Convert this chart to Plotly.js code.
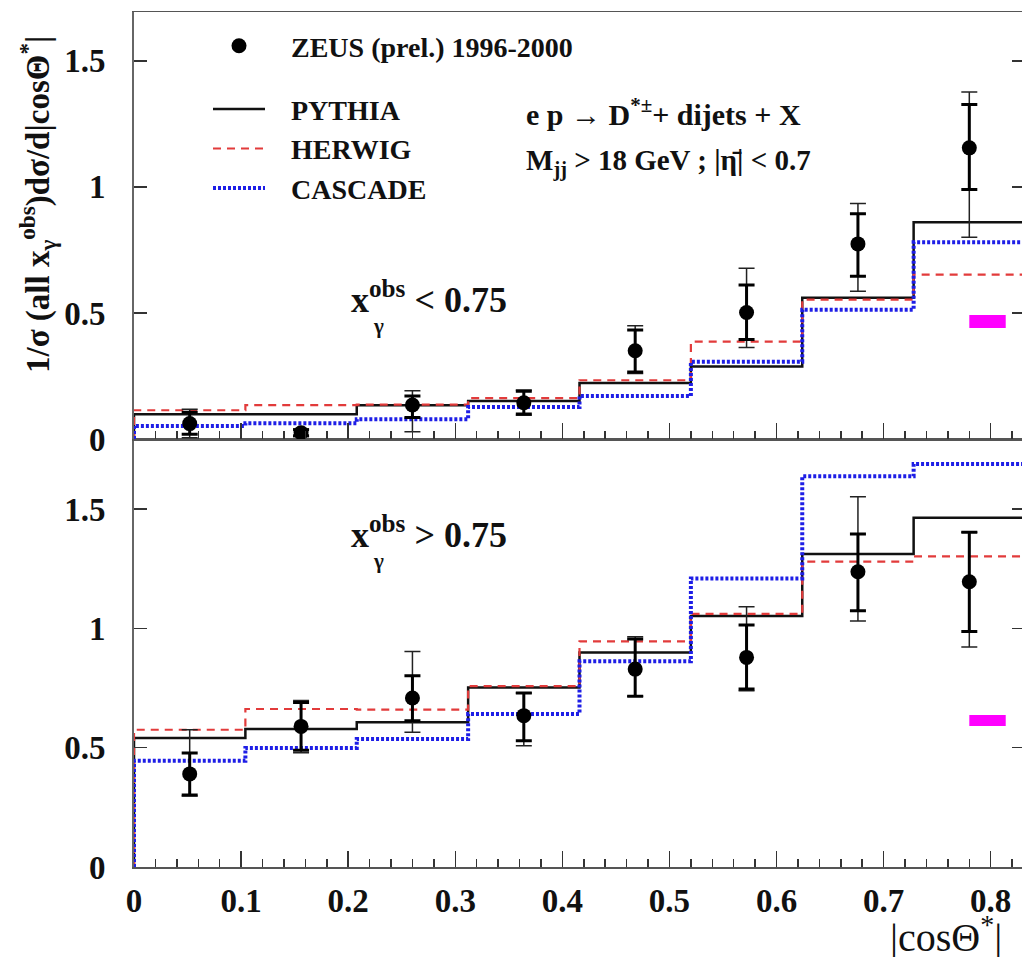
<!DOCTYPE html>
<html>
<head>
<meta charset="utf-8">
<script src="https://cdn.plot.ly/plotly-3.0.1.min.js"></script>
<style>
html,body{margin:0;padding:0;overflow:hidden;background:#fff;}
#chart{width:1025px;height:957px;}
</style>
</head>
<body>
<div id="chart"></div>
<script>
// ---- data ----
const binEdges = [0, 0.104, 0.208, 0.312, 0.416, 0.52, 0.624, 0.728, 0.832];
const binCenters = [0.052, 0.156, 0.26, 0.364, 0.468, 0.572, 0.676, 0.78];

// top panel: x_gamma^obs < 0.75
const lowPythia  = [0.098, 0.098, 0.134, 0.151, 0.222, 0.288, 0.560, 0.860];
const lowHerwig  = [0.114, 0.134, 0.136, 0.162, 0.233, 0.386, 0.553, 0.652];
const lowCascade = [0.052, 0.062, 0.078, 0.127, 0.171, 0.306, 0.513, 0.781];
const lowData    = [0.061, 0.025, 0.135, 0.144, 0.350, 0.502, 0.774, 1.155];
const lowStatUp  = [0.045, 0.012, 0.036, 0.045, 0.082, 0.109, 0.120, 0.172];
const lowStatDn  = [0.042, 0.012, 0.050, 0.045, 0.084, 0.107, 0.128, 0.165];
const lowTotUp   = [0.057, 0.015, 0.056, 0.050, 0.099, 0.175, 0.160, 0.222];
const lowTotDn   = [0.056, 0.015, 0.106, 0.050, 0.090, 0.139, 0.188, 0.355];

// bottom panel: x_gamma^obs > 0.75
const highPythia  = [0.540, 0.578, 0.606, 0.752, 0.899, 1.052, 1.311, 1.463];
const highHerwig  = [0.575, 0.662, 0.659, 0.758, 0.945, 1.060, 1.279, 1.301];
const highCascade = [0.445, 0.499, 0.536, 0.641, 0.862, 1.209, 1.637, 1.688];
const highData    = [0.390, 0.589, 0.708, 0.634, 0.829, 0.878, 1.237, 1.195];
const highStatUp  = [0.088, 0.100, 0.093, 0.095, 0.126, 0.136, 0.158, 0.207];
const highStatDn  = [0.088, 0.100, 0.095, 0.105, 0.114, 0.132, 0.164, 0.208];
const highTotUp   = [0.185, 0.108, 0.195, 0.095, 0.136, 0.212, 0.314, 0.207];
const highTotDn   = [0.093, 0.110, 0.144, 0.126, 0.114, 0.140, 0.206, 0.273];

const xTickVals = [0, 0.1, 0.2, 0.3, 0.4, 0.5, 0.6, 0.7, 0.8];
const xTickText = ['0', '0.1', '0.2', '0.3', '0.4', '0.5', '0.6', '0.7', '0.8'];
const yTickVals = [0, 0.5, 1, 1.5];
const yTickText = ['0', '0.5', '1', '1.5'];

// ---- build ----
const SERIF = 'Liberation Serif, Times New Roman, serif';
const W = 1025, H = 957, ML = 134, MR = 0, MT = 12, MB = 90;
const PW = W - ML - MR, PH = H - MT - MB;
const px = v => (v - ML) / PW;
const py = v => (H - MB - v) / PH;
const split = (H - MB - 439) / PH;
const PAD = '\u00a0\u00a0\u00a0';

function stepXY(vals) {
  const xs = [binEdges[0]].concat(binEdges);
  const ys = [0].concat(vals, [vals[vals.length - 1]]);
  return {xs, ys};
}

const styles = {
  PYTHIA:  {color: '#111111', width: 2.5, dash: 'solid'},
  HERWIG:  {color: '#e23b3b', width: 2.2, dash: '8px,6px'},
  CASCADE: {color: '#1e1ee6', width: 4, dash: '3px,2px'}
};

function mcTrace(name, vals, xa, ya, show) {
  const s = stepXY(vals);
  return {
    type: 'scatter', mode: 'lines', x: s.xs, y: s.ys, xaxis: xa, yaxis: ya,
    line: {shape: 'hv', color: styles[name].color, width: styles[name].width, dash: styles[name].dash},
    name: PAD + name, showlegend: show, legendgroup: 'mc', legendrank: 2, hoverinfo: 'skip'
  };
}

function dataTraces(vals, sU, sD, tU, tD, xa, ya, show) {
  return [
    {
      type: 'scatter', mode: 'markers', x: binCenters, y: vals, xaxis: xa, yaxis: ya,
      marker: {size: 0.1, color: '#000'}, showlegend: false, hoverinfo: 'skip',
      error_y: {type: 'data', symmetric: false, array: tU, arrayminus: tD,
                color: '#222', thickness: 1.5, width: 8}
    },
    {
      type: 'scatter', mode: 'markers', x: binCenters, y: vals, xaxis: xa, yaxis: ya,
      marker: {size: 15, color: '#000', symbol: 'circle'},
      name: PAD + 'ZEUS (prel.) 1996-2000', showlegend: show, legendgroup: 'data', legendrank: 1,
      error_y: {type: 'data', symmetric: false, array: sU, arrayminus: sD,
                color: '#000', thickness: 3, width: 8}
    }
  ];
}

const traces = [
  mcTrace('PYTHIA', lowPythia, 'x2', 'y2', true),
  mcTrace('HERWIG', lowHerwig, 'x2', 'y2', true),
  mcTrace('CASCADE', lowCascade, 'x2', 'y2', true),
  ...dataTraces(lowData, lowStatUp, lowStatDn, lowTotUp, lowTotDn, 'x2', 'y2', true),
  mcTrace('PYTHIA', highPythia, 'x', 'y', false),
  mcTrace('HERWIG', highHerwig, 'x', 'y', false),
  mcTrace('CASCADE', highCascade, 'x', 'y', false),
  ...dataTraces(highData, highStatUp, highStatDn, highTotUp, highTotDn, 'x', 'y', false)
];

const tickFont = {family: SERIF, size: 33, color: '#111', weight: 'bold'};
const xBase = {
  range: [0, 0.832], tickmode: 'array', tickvals: xTickVals, ticktext: xTickText,
  ticks: 'inside', ticklen: 16, tickwidth: 1.5, tickcolor: '#333',
  minor: {dtick: 0.02, tick0: 0, ticks: 'inside', ticklen: 8, tickwidth: 1.5, tickcolor: '#333'},
  showline: true, linecolor: '#555', linewidth: 1.5, mirror: true,
  showgrid: false, zeroline: false, tickfont: tickFont, ticklabelstandoff: 4
};
const yBase = {
  tickmode: 'array', tickvals: yTickVals, ticktext: yTickText,
  ticks: 'inside', ticklen: 13, tickwidth: 1.5, tickcolor: '#333',
  showline: true, linecolor: '#666', linewidth: 2, mirror: 'ticks',
  showgrid: false, zeroline: false, tickfont: tickFont, ticklabelstandoff: 20
};

const annFont = (size, weight) => ({family: SERIF, size: size, color: '#111', weight: weight || 'bold'});

const layout = {
  width: W, height: H,
  margin: {l: ML, r: MR, t: MT, b: MB},
  paper_bgcolor: '#fff', plot_bgcolor: '#fff',
  xaxis: Object.assign({}, xBase, {anchor: 'y'}),
  xaxis2: Object.assign({}, xBase, {anchor: 'y2', matches: 'x', showticklabels: false}),
  yaxis: Object.assign({}, yBase, {domain: [0, split], range: [0, 1.793], anchor: 'x'}),
  yaxis2: Object.assign({}, yBase, {domain: [split, 1], range: [0, 1.694], anchor: 'x2'}),
  showlegend: true,
  legend: {
    x: px(208), y: py(21), xanchor: 'left', yanchor: 'top',
    bgcolor: 'rgba(0,0,0,0)', borderwidth: 0,
    font: {family: SERIF, size: 28, color: '#111', weight: 'bold'},
    traceorder: 'grouped', tracegroupgap: 24, itemwidth: 52
  },
  shapes: [
    {type: 'rect', xref: 'x2', yref: 'y2', x0: 0.780, x1: 0.814, y0: 0.440, y1: 0.492,
     fillcolor: '#ff00ff', line: {width: 0}},
    {type: 'rect', xref: 'x', yref: 'y', x0: 0.780, x1: 0.814, y0: 0.591, y1: 0.637,
     fillcolor: '#ff00ff', line: {width: 0}}
  ],
  annotations: [
    {xref: 'paper', yref: 'paper', x: px(524), y: py(112), xanchor: 'left', yanchor: 'middle',
     text: 'e p \u2192 D<sup>*\u00b1</sup>+ dijets + X', showarrow: false, font: annFont(30)},
    {xref: 'paper', yref: 'paper', x: px(524), y: py(162), xanchor: 'left', yanchor: 'middle',
     text: 'M<sub>jj</sub> > 18 GeV ; |\u03b7\u0304| < 0.7', showarrow: false, font: annFont(29)},
    {xref: 'paper', yref: 'paper', x: px(349), y: py(297), xanchor: 'left', yanchor: 'middle',
     text: 'x<sup>obs</sup> < 0.75', showarrow: false, font: annFont(36)},
    {xref: 'paper', yref: 'paper', x: px(371), y: py(326), xanchor: 'left', yanchor: 'middle',
     text: '\u03b3', showarrow: false, font: annFont(21)},
    {xref: 'paper', yref: 'paper', x: px(349), y: py(532), xanchor: 'left', yanchor: 'middle',
     text: 'x<sup>obs</sup> > 0.75', showarrow: false, font: annFont(36)},
    {xref: 'paper', yref: 'paper', x: px(371), y: py(561), xanchor: 'left', yanchor: 'middle',
     text: '\u03b3', showarrow: false, font: annFont(21)},
    {xref: 'paper', yref: 'paper', x: px(37), y: py(205), xanchor: 'center', yanchor: 'middle',
     textangle: -90, text: '1/\u03c3 (all x<sub>\u03b3</sub><sup>obs</sup>)d\u03c3/d|cos\u0398<sup>*</sup>|',
     showarrow: false, font: annFont(33)},
    {xref: 'paper', yref: 'paper', x: px(888), y: py(934), xanchor: 'left', yanchor: 'middle',
     text: '|cos\u0398<sup>*</sup>|', showarrow: false, font: annFont(40, 'normal')}
  ]
};

Plotly.newPlot('chart', traces, layout, {displayModeBar: false, staticPlot: true});
</script>
</body>
</html>
